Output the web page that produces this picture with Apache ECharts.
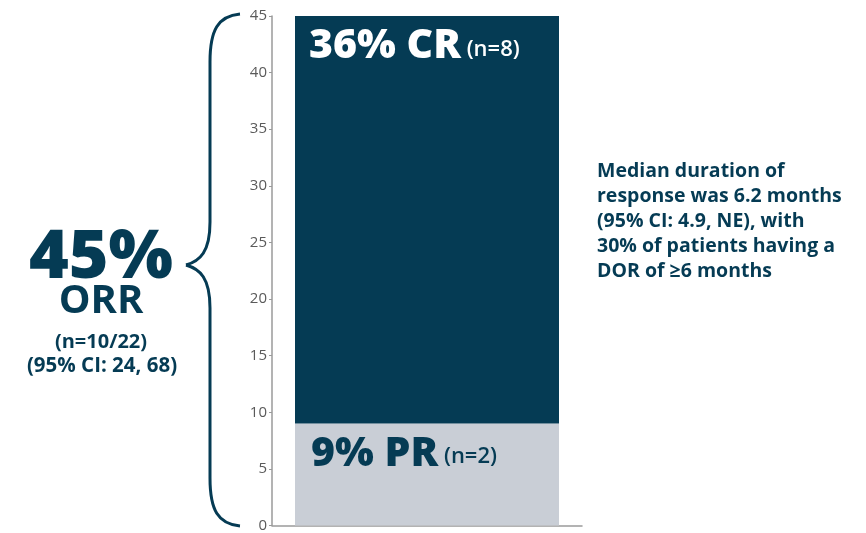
<!DOCTYPE html>
<html><head><meta charset="utf-8">
<script src="https://cdn.jsdelivr.net/npm/echarts@6/dist/echarts.min.js"></script>
<style>html,body{margin:0;padding:0;background:#fff}#c{width:866px;height:533px}</style>
</head><body><div id="c"></div>
<script>
const categories = ['ORR'];
const prValues = [9];
const crValues = [36];
const prLabel = ['9% PR', '(n=2)'];
const crLabel = ['36% CR', '(n=8)'];
const yTicks = {min: 0, max: 45, interval: 5};
const orrLines = ['45%', 'ORR', '(n=10/22)', '(95% CI: 24, 68)'];
const dorLines = ['Median duration of', 'response was 6.2 months', '(95% CI: 4.9, NE), with', '30% of patients having a', 'DOR of \u22656 months'];

const NAVY = '#053b54';
const GREY = '#c9ced6';
const FONT = '"Open Sans", Lato, sans-serif';
const chart = echarts.init(document.getElementById('c'));

const braceStyle = {fill:'none', stroke:NAVY, lineWidth:3};
const curves = [
  [240,14, 210,62, 218,16, 210,30],
  [210,222, 186,265, 210,252, 200,261],
  [186,265, 210,308, 200,269, 210,278],
  [210,478, 240,526, 210,510, 218,524]
];
const graphics = [];
curves.forEach(c => graphics.push({type:'bezierCurve', shape:{x1:c[0], y1:c[1], x2:c[2], y2:c[3], cpx1:c[4], cpy1:c[5], cpx2:c[6], cpy2:c[7]}, style:braceStyle}));
graphics.push({type:'line', shape:{x1:210, y1:62, x2:210, y2:222}, style:braceStyle});
graphics.push({type:'line', shape:{x1:210, y1:308, x2:210, y2:478}, style:braceStyle});
function txt(t, x, y, size, weight) {
  return {type:'text', x:x, y:y, style:{text:t, fontSize:size, fontWeight:weight, fontFamily:FONT, fill:NAVY, textAlign:'center', textVerticalAlign:'middle'}};
}
graphics.push(
  txt(orrLines[0], 101, 259, 68, 800),
  txt(orrLines[1], 101, 302, 40, 700),
  txt(orrLines[2], 101, 342, 20, 700),
  txt(orrLines[3], 102, 366, 20.5, 700)
);
dorLines.forEach((t, i) => {
  graphics.push({type:'text', x:597, y:171 + i*25.2, style:{text:t, fontSize:19.5, fontWeight:700, fontFamily:FONT, fill:NAVY, textAlign:'left', textVerticalAlign:'middle'}});
});

chart.setOption({
  animation:false,
  grid:{left:272, top:16, width:310, bottom:7, containLabel:false},
  xAxis:{type:'category', data:categories, axisLine:{lineStyle:{color:'#9a9a9a', width:1.5}}, axisTick:{show:false}, axisLabel:{show:false}},
  yAxis:{type:'value', min:yTicks.min, max:yTicks.max, interval:yTicks.interval,
    axisLine:{show:true, lineStyle:{color:'#9a9a9a', width:1.5}},
    axisTick:{show:true, length:3, lineStyle:{color:'#9a9a9a'}},
    axisLabel:{color:'#5a5a5a', fontSize:15, fontFamily:FONT, margin:5},
    splitLine:{show:false}},
  series:[
    {type:'bar', stack:'s', data:prValues, barWidth:264, itemStyle:{color:GREY},
     label:{show:true, position:[16,10], formatter:'{a|'+prLabel[0]+'}{b| '+prLabel[1]+'}',
       rich:{a:{fontSize:41, fontWeight:800, fontFamily:FONT, color:NAVY}, b:{fontSize:22, fontWeight:600, fontFamily:FONT, color:NAVY, padding:[6,0,0,0]}}}},
    {type:'bar', stack:'s', data:crValues, barWidth:264, itemStyle:{color:NAVY},
     label:{show:true, position:[14,10], formatter:'{a|'+crLabel[0]+'}{b| '+crLabel[1]+'}',
       rich:{a:{fontSize:41, fontWeight:800, fontFamily:FONT, color:'#fff'}, b:{fontSize:22, fontWeight:600, fontFamily:FONT, color:'#fff', padding:[6,0,0,0]}}}}
  ],
  graphic: graphics
});
</script></body></html>
